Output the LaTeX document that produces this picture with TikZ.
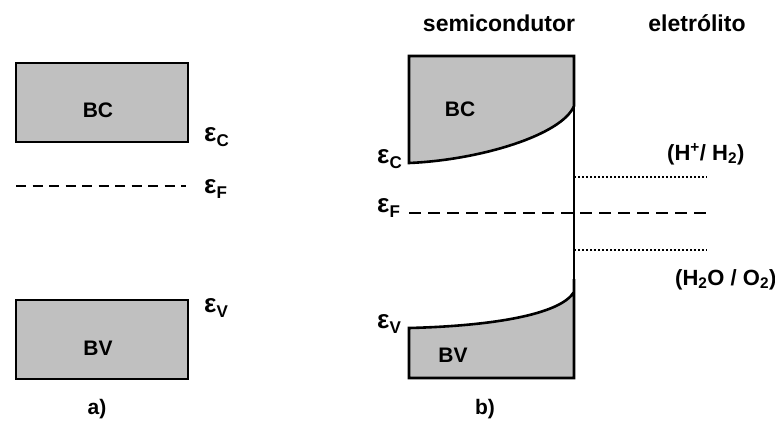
\documentclass[tikz,border=0pt]{standalone}
\usepackage{fontspec}
\setmainfont{Liberation Sans}
\usepackage{tikz}
\usetikzlibrary{positioning}
\definecolor{bandgray}{RGB}{192,192,192}
\newcommand{\lev}[1]{ε\raisebox{-5.5pt}{\fontsize{17}{17}\selectfont #1}}

\begin{document}
\begin{tikzpicture}[x=1pt, y=-1pt,
		band/.style={draw=black, line width=2.6pt, fill=bandgray, line join=miter},
		fermiA/.style={line width=2.8pt, dash pattern=on 10pt off 6.5pt},
		fermiB/.style={line width=2.8pt, dash pattern=on 12pt off 7pt},
		redox/.style={line width=1.8pt, dash pattern=on 1.6pt off 2.4pt},
		tag/.style={inner sep=0pt, font=\fontsize{21}{21}\selectfont\bfseries},
		levtag/.style={inner sep=0pt, anchor=base west, font=\fontsize{26}{26}\selectfont\bfseries},
		head/.style={inner sep=0pt, anchor=base, font=\fontsize{23}{23}\selectfont\bfseries}]
		\useasboundingbox (0,0) rectangle (775,426);
		\begin{scope}
			\draw[band] (16,63) rectangle (188,142);
			\draw[band] (16,300) rectangle (188,379);
			\draw[fermiA] (16,186) -- (186,186);
			\node[tag] (bcA) at (98,110) {BC};
			\node[tag] (bvA) at (98,348) {BV};
			\node[levtag] (ecA) at (204,141) {\lev{C}};
			\node[levtag] (efA) at (204,193) {\lev{F}};
			\node[levtag] (evA) at (204,312) {\lev{V}};
			\node[tag, anchor=base] (capA) at (97,414) {a)};
		\end{scope}
		\begin{scope}
			\coordinate (ifTop) at (574,106);
			\coordinate (ifBot) at (574,279);
			\draw[band] (409,56) -- (574,56) -- (ifTop) .. controls (562,135) and (480,160) .. (409,163) -- cycle;
			\draw[band] (ifBot) -- (574,378) -- (409,378) -- (409,328) .. controls (490,326) and (560,315) .. (574,292);
			\draw[line width=1.1pt] (ifTop) -- (ifBot);
			\coordinate (hEnd) at (707,177);
			\coordinate (oEnd) at (707,250);
			\draw[redox] (hEnd -| ifTop) -- (hEnd);
			\draw[redox] (oEnd -| ifTop) -- (oEnd);
			\draw[fermiB] (409,213) -- (710,213);
			\node[tag] (bcB) at (460,109) {BC};
			\node[tag] (bvB) at (453,355) {BV};
			\node[levtag] (ecB) at (377,163) {\lev{C}};
			\node[levtag] (efB) at (377,212) {\lev{F}};
			\node[levtag] (evB) at (377,328) {\lev{V}};
			\node[tag, anchor=base west, font=\fontsize{22}{22}\selectfont\bfseries] (hyd) at (667,160) {(H\textsuperscript{+}/ H\textsubscript{2})};
			\node[tag, anchor=base west, font=\fontsize{22}{22}\selectfont\bfseries] (oxy) at (675,285) {(H\textsubscript{2}O / O\textsubscript{2})};
			\node[head] (semi) at (499,31) {semicondutor};
			\node[head] (elec) at (697,31) {eletrólito};
			\node[tag, anchor=base] (capB) at (485,414) {b)};
		\end{scope}
	\end{tikzpicture}
\end{document}
